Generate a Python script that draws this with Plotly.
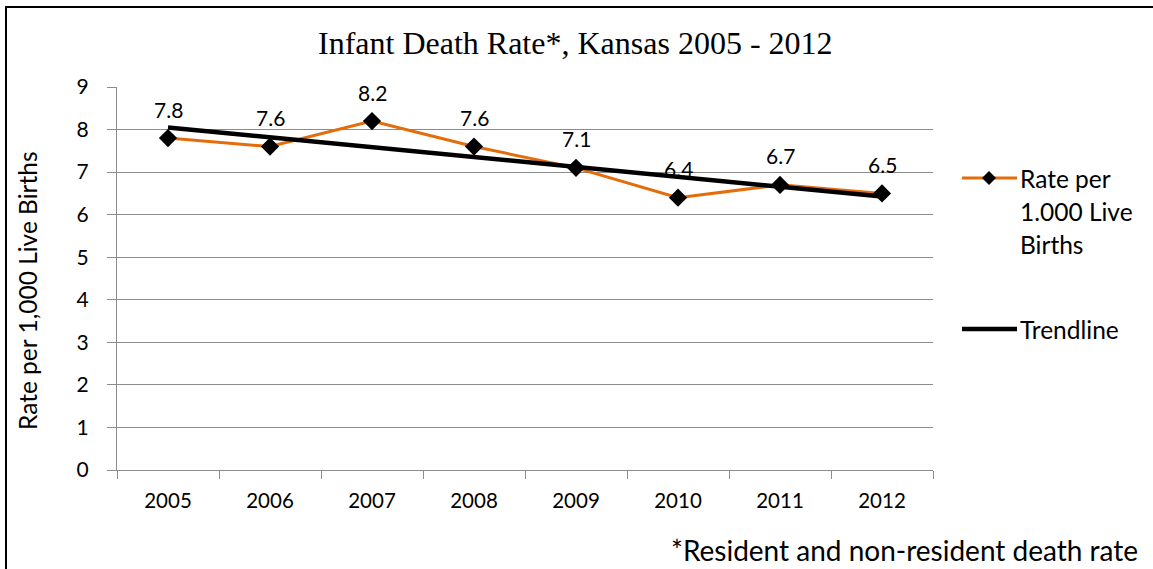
import numpy as np
import plotly.graph_objects as go

years = ["2005", "2006", "2007", "2008", "2009", "2010", "2011", "2012"]
rates = [7.8, 7.6, 8.2, 7.6, 7.1, 6.4, 6.7, 6.5]
y_ticks = [0, 1, 2, 3, 4, 5, 6, 7, 8, 9]

title_text = "Infant Death Rate*, Kansas 2005 - 2012"
y_title = "Rate per 1,000 Live Births"
footnote = "*Resident and non-resident death rate"
series_name = "Rate per 1.000 Live Births"
trend_name = "Trendline"
legend_lines = ["Rate per", "1.000 Live", "Births"]

# linear trendline (as in the original spreadsheet's trendline)
idx = np.arange(len(rates))
slope, intercept = np.polyfit(idx, rates, 1)
trend_vals = [intercept, intercept + slope * idx[-1]]

W, H = 1153, 569
L, R, T, B = 117, 933, 87, 470
PW, PH = R - L, B - T

def px(x):
    return (x - L) / PW

def py(y):
    return (B - y) / PH

SANS = "Lato, 'Open Sans', sans-serif"
SERIF = "'Liberation Serif', 'Times New Roman', serif"
ORANGE = "#E46C0A"
GRID = "#8C8C8C"

fig = go.Figure()
fig.add_trace(go.Scatter(
    x=years, y=rates, mode="lines+markers", name=series_name,
    line=dict(color=ORANGE, width=3),
    marker=dict(symbol="diamond", size=14, color="black"),
    showlegend=False,
))
fig.add_trace(go.Scatter(
    x=[years[0], years[-1]], y=trend_vals, mode="lines", name=trend_name,
    line=dict(color="black", width=4.5),
    showlegend=False,
))

annotations = []
for i, v in enumerate(rates):
    annotations.append(dict(
        x=i, y=v, xref="x", yref="y", text=f"{v:.1f}", showarrow=False,
        yshift=29, font=dict(family=SANS, size=21, color="black"),
    ))

annotations.append(dict(
    x=px(575), y=py(43), xref="paper", yref="paper", text=title_text,
    showarrow=False, font=dict(family=SERIF, size=32, color="black"),
    xanchor="center", yanchor="middle",
))
annotations.append(dict(
    x=px(27), y=py(291), xref="paper", yref="paper", text=y_title,
    showarrow=False, textangle=-90, font=dict(family=SANS, size=24.5, color="black"),
    xanchor="center", yanchor="middle",
))
annotations.append(dict(
    x=px(1140), y=py(550), xref="paper", yref="paper", text=footnote,
    showarrow=False, font=dict(family=SANS, size=28, color="black"),
    xanchor="right", yanchor="middle",
))

for i, t in enumerate(legend_lines):
    annotations.append(dict(
        x=px(1018), y=py(178 + i * 33), xref="paper", yref="paper", text=t,
        showarrow=False, font=dict(family=SANS, size=24.5, color="black"),
        xanchor="left", yanchor="middle",
    ))
annotations.append(dict(
    x=px(1018), y=py(329), xref="paper", yref="paper", text=trend_name,
    showarrow=False, font=dict(family=SANS, size=24.5, color="black"),
    xanchor="left", yanchor="middle",
))

shapes = [
    dict(type="line", xref="paper", yref="paper", x0=px(962), x1=px(1017),
         y0=py(178), y1=py(178), line=dict(color=ORANGE, width=3)),
    dict(type="path", xref="paper", yref="paper",
         path=(f"M {px(989 - 7)} {py(178)} L {px(989)} {py(178 - 7)} "
               f"L {px(989 + 7)} {py(178)} L {px(989)} {py(178 + 7)} Z"),
         fillcolor="black", line=dict(color="black", width=0)),
    dict(type="line", xref="paper", yref="paper", x0=px(962), x1=px(1017),
         y0=py(329), y1=py(329), line=dict(color="black", width=4.5)),
    dict(type="rect", xref="paper", yref="paper", x0=px(6), x1=px(1175),
         y0=py(600), y1=py(7), line=dict(color="black", width=2), layer="above"),
]

fig.update_layout(
    width=W, height=H,
    margin=dict(l=L, r=W - R, t=T, b=H - B, pad=0),
    paper_bgcolor="white", plot_bgcolor="white",
    showlegend=False,
    annotations=annotations, shapes=shapes,
    xaxis=dict(
        type="category", range=[-0.5, len(years) - 0.5],
        tickson="boundaries", ticks="outside", ticklen=8, tickcolor=GRID,
        showgrid=False, showline=True, linecolor=GRID, linewidth=1,
        tickfont=dict(family=SANS, size=20.5, color="black"),
        ticklabelstandoff=12, zeroline=False,
    ),
    yaxis=dict(
        range=[0, 9], tickmode="array", tickvals=y_ticks,
        ticks="outside", ticklen=9, tickcolor=GRID,
        showgrid=True, gridcolor=GRID, gridwidth=1,
        showline=True, linecolor=GRID, linewidth=1, zeroline=False,
        tickfont=dict(family=SANS, size=21, color="black"),
        ticklabelstandoff=14,
    ),
)

fig.write_html(
    "out.html",
    config={"displayModeBar": False},
    post_script="document.body.style.margin='0px';document.body.style.overflow='hidden';",
)
